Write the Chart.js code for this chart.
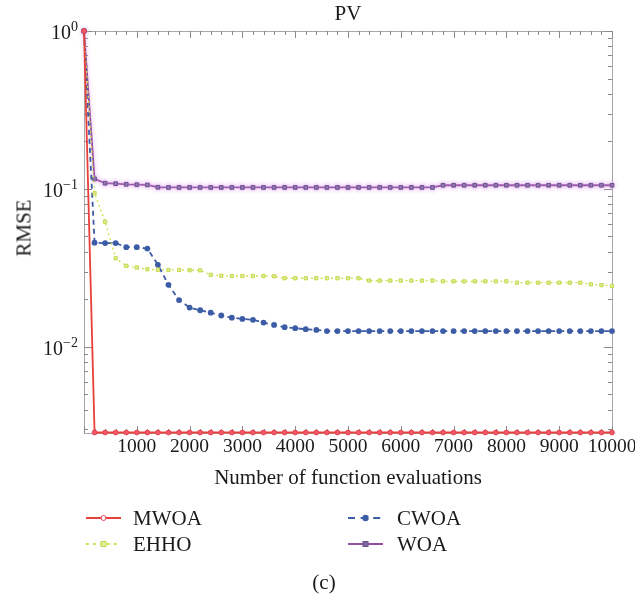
<!DOCTYPE html>
<html>
<head>
<meta charset="utf-8">
<script src="https://cdn.jsdelivr.net/npm/chart.js@4.4.0/dist/chart.umd.min.js"></script>
<style>
    body { margin: 0; background: #fff; }
    #wrap { position: relative; width: 635px; height: 599px; font-family: "Liberation Serif", "DejaVu Serif", serif; color: #1a1a1a; }
    canvas { position: absolute; left: 0; top: 0; }
    .lbl { position: absolute; white-space: nowrap; line-height: 1; font-size: 21px; }
    .c { transform: translate(-50%, -50%); }
    .r { transform: translate(-100%, -50%); }
    .l { transform: translate(0, -50%); }
    sup { font-size: 14px; vertical-align: 0; position: relative; top: -8px; }
</style>
</head>
<body>
<div id="wrap">
    <canvas id="chart" width="635" height="599"></canvas>
    <div class="lbl c" style="left:348px; top:13px;">PV</div>
    <div class="lbl c" style="left:24px; top:228px; transform: translate(-50%, -50%) rotate(-90deg);">RMSE</div>
    <div class="lbl c" style="left:348px; top:477px;">Number of function evaluations</div>
    <div class="lbl l" style="left:133px; top:518px;">MWOA</div>
    <div class="lbl l" style="left:133px; top:544px;">EHHO</div>
    <div class="lbl l" style="left:397px; top:518px;">CWOA</div>
    <div class="lbl l" style="left:397px; top:544px;">WOA</div>
    <div class="lbl c" style="left:324px; top:582px;">(c)</div>
</div>
<script>
// Function evaluations (x) and RMSE curves
const evals = [0, 200, 400, 600, 800, 1000, 1200, 1400, 1600, 1800, 2000, 2200, 2400, 2600, 2800, 3000,
    3200, 3400, 3600, 3800, 4000, 4200, 4400, 4600, 4800, 5000, 5200, 5400, 5600, 5800, 6000, 6200,
    6400, 6600, 6800, 7000, 7200, 7400, 7600, 7800, 8000, 8200, 8400, 8600, 8800, 9000, 9200, 9400,
    9600, 9800, 10000];

const mwoa = [1, 0.00287, 0.00287, 0.00287, 0.00287, 0.00287, 0.00287, 0.00287, 0.00287, 0.00287,
    0.00287, 0.00287, 0.00287, 0.00287, 0.00287, 0.00287, 0.00287, 0.00287, 0.00287, 0.00287,
    0.00287, 0.00287, 0.00287, 0.00287, 0.00287, 0.00287, 0.00287, 0.00287, 0.00287, 0.00287,
    0.00287, 0.00287, 0.00287, 0.00287, 0.00287, 0.00287, 0.00287, 0.00287, 0.00287, 0.00287,
    0.00287, 0.00287, 0.00287, 0.00287, 0.00287, 0.00287, 0.00287, 0.00287, 0.00287, 0.00287, 0.00287];

const ehho = [1, 0.0939, 0.062, 0.0364, 0.0326, 0.0318, 0.031, 0.0308, 0.0307, 0.0307, 0.0306, 0.0305,
    0.0286, 0.0282, 0.0281, 0.0281, 0.0281, 0.0281, 0.028, 0.0272, 0.0272, 0.0272, 0.0272, 0.0272,
    0.0272, 0.0272, 0.0272, 0.0263, 0.0263, 0.0263, 0.0263, 0.0263, 0.0263, 0.0263, 0.026, 0.026,
    0.026, 0.026, 0.026, 0.026, 0.026, 0.0255, 0.0255, 0.0255, 0.0255, 0.0255, 0.0255, 0.0255,
    0.0249, 0.0246, 0.0243];

const cwoa = [1, 0.0457, 0.0454, 0.0454, 0.0428, 0.0428, 0.0419, 0.0331, 0.0247, 0.0198, 0.01775,
    0.01706, 0.01648, 0.0158, 0.0153, 0.01504, 0.01483, 0.01426, 0.01378, 0.01333, 0.01313, 0.01294,
    0.0128, 0.0126, 0.0126, 0.0126, 0.0126, 0.0126, 0.0126, 0.0126, 0.0126, 0.0126, 0.0126, 0.0126,
    0.0126, 0.0126, 0.0126, 0.0126, 0.0126, 0.0126, 0.0126, 0.0126, 0.0126, 0.0126, 0.0126, 0.0126,
    0.0126, 0.0126, 0.0126, 0.0126, 0.0126];

const woa = [1, 0.1157, 0.1087, 0.108, 0.107, 0.1064, 0.106, 0.1025, 0.1022, 0.1022, 0.1022, 0.1022,
    0.1022, 0.1022, 0.1022, 0.1022, 0.1022, 0.1022, 0.1022, 0.1022, 0.1022, 0.1022, 0.1022, 0.1022,
    0.1022, 0.1022, 0.1022, 0.1022, 0.1022, 0.1022, 0.1022, 0.1022, 0.1022, 0.1022, 0.1055, 0.1055,
    0.1055, 0.1055, 0.1055, 0.1055, 0.1055, 0.1055, 0.1055, 0.1055, 0.1055, 0.1055, 0.1055, 0.1055,
    0.1055, 0.1055, 0.1055];

const seriesNames = ['MWOA', 'EHHO', 'CWOA', 'WOA'];
const xTickLabels = [1000, 2000, 3000, 4000, 5000, 6000, 7000, 8000, 9000, 10000];
const yTickValues = [1, 0.1, 0.01];
const yTickExponents = ['0', '\u22121', '\u22122'];

const toPoints = arr => evals.map((e, i) => ({ x: e, y: arr[i] }));

// frame + inward ticks on all four sides
const frameTicks = {
    id: 'frameTicks',
    beforeDatasetsDraw(chart) {
        const { ctx, chartArea: a, scales: { x, y } } = chart;
        ctx.save();
        ctx.strokeStyle = '#a8a8a8';
        ctx.lineWidth = 1;
        ctx.strokeRect(a.left + 0.5, a.top + 0.5, a.right - a.left, a.bottom - a.top);
        ctx.strokeStyle = '#8a8a8a';
        ctx.beginPath();
        for (let v = 0; v <= 10000; v += 200) {
            const px = Math.round(x.getPixelForValue(v)) + 0.5;
            const len = v % 1000 === 0 ? 7 : 4;
            ctx.moveTo(px, a.top); ctx.lineTo(px, a.top + len);
            ctx.moveTo(px, a.bottom); ctx.lineTo(px, a.bottom - len);
        }
        for (let e = -3; e <= 0; e++) {
            for (let s = 1; s <= 9; s++) {
                const v = s * Math.pow(10, e);
                if (v < y.min || v > y.max * 1.0001) continue;
                const py = Math.round(y.getPixelForValue(v)) + 0.5;
                const len = s === 1 ? 8 : 4;
                ctx.moveTo(a.left, py); ctx.lineTo(a.left + len, py);
                ctx.moveTo(a.right, py); ctx.lineTo(a.right - len, py);
            }
        }
        ctx.stroke();
        ctx.restore();
    },
    beforeDatasetDraw(chart, args) {
        if (args.index === 3) {
            chart.ctx.save();
            chart.ctx.shadowColor = 'rgba(225, 160, 235, 0.9)';
            chart.ctx.shadowBlur = 4;
        }
    },
    afterDatasetDraw(chart, args) {
        if (args.index === 3) chart.ctx.restore();
    },
    afterDraw(chart) {
        // legend samples
        const { ctx } = chart;
        const spots = [[86, 518], [86, 544], [348, 518], [348, 544]];
        chart.data.datasets.forEach((ds, i) => {
            const [sx, sy] = spots[i];
            ctx.save();
            ctx.strokeStyle = ds.borderColor;
            ctx.lineWidth = 2.2;
            ctx.setLineDash(ds.borderDash ? ds.borderDash.map(d => d * 1.4) : []);
            ctx.beginPath();
            ctx.moveTo(sx, sy); ctx.lineTo(sx + 35, sy);
            ctx.stroke();
            ctx.setLineDash([]);
            const mx = sx + 17.5;
            ctx.fillStyle = ds.pointBackgroundColor;
            ctx.strokeStyle = ds.pointBorderColor;
            ctx.lineWidth = 1;
            if (i === 0) {
                ctx.fillStyle = '#fff';
                ctx.beginPath(); ctx.arc(mx, sy, 2.5, 0, Math.PI * 2); ctx.fill(); ctx.stroke();
            } else if (ds.pointStyle === 'rect') {
                ctx.fillRect(mx - 2.5, sy - 2.5, 5, 5); ctx.strokeRect(mx - 2.5, sy - 2.5, 5, 5);
            } else {
                ctx.beginPath(); ctx.arc(mx, sy, 3.2, 0, Math.PI * 2); ctx.fill();
            }
            ctx.restore();
        });
    }
};

const chart = new Chart(document.getElementById('chart'), {
    type: 'line',
    data: {
        datasets: [{
            label: seriesNames[0],
            data: toPoints(mwoa),
            borderColor: '#e8403a',
            borderWidth: 1.8,
            pointStyle: 'circle',
            pointRadius: 2.4,
            pointBackgroundColor: '#ee5a68',
            pointBorderColor: '#e8404e',
            pointBorderWidth: 1
        }, {
            label: seriesNames[1],
            data: toPoints(ehho),
            borderColor: '#d0e04e',
            borderWidth: 1.3,
            borderDash: [2, 3],
            pointStyle: 'rect',
            pointRadius: 2.3,
            pointBackgroundColor: '#e2ec96',
            pointBorderColor: '#c6d84a',
            pointBorderWidth: 1
        }, {
            label: seriesNames[2],
            data: toPoints(cwoa),
            borderColor: '#3d5ca6',
            borderWidth: 1.8,
            borderDash: [5, 4],
            pointStyle: 'circle',
            pointRadius: 2.9,
            pointBackgroundColor: '#3d5ca6',
            pointBorderColor: '#3d5ca6',
            pointBorderWidth: 0
        }, {
            label: seriesNames[3],
            data: toPoints(woa),
            borderColor: '#9550a6',
            borderWidth: 1.8,
            pointStyle: 'rect',
            pointRadius: 2.6,
            pointBackgroundColor: '#7e6aa0',
            pointBorderColor: '#6a5290',
            pointBorderWidth: 1
        }]
    },
    options: {
        responsive: false,
        animation: false,
        clip: 6,
        layout: { padding: { left: 84, right: 23, top: 31, bottom: 166 } },
        elements: { line: { tension: 0 } },
        plugins: { legend: { display: false }, tooltip: { enabled: false } },
        scales: {
            x: {
                type: 'linear', min: 0, max: 10000,
                ticks: { display: false },
                grid: { display: false, drawTicks: false },
                border: { display: false }
            },
            y: {
                type: 'logarithmic', min: 0.00285, max: 1,
                ticks: { display: false },
                grid: { display: false, drawTicks: false },
                border: { display: false }
            }
        }
    },
    plugins: [frameTicks]
});

// tick labels as real text, placed through the chart's scales
const wrap = document.getElementById('wrap');
xTickLabels.forEach(v => {
    const d = document.createElement('div');
    d.className = 'lbl c';
    d.style.fontSize = '19.5px';
    d.style.left = chart.scales.x.getPixelForValue(v) + 'px';
    d.style.top = '446px';
    d.textContent = v;
    wrap.appendChild(d);
});
yTickValues.forEach((v, i) => {
    const d = document.createElement('div');
    d.className = 'lbl r';
    d.style.fontSize = '20px';
    d.style.left = '78px';
    d.style.top = (chart.scales.y.getPixelForValue(v) + 1) + 'px';
    d.innerHTML = '10<sup>' + yTickExponents[i] + '</sup>';
    wrap.appendChild(d);
});
</script>
</body>
</html>
